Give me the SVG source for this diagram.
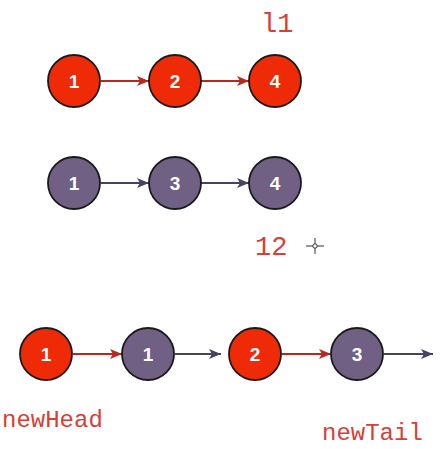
<svg xmlns="http://www.w3.org/2000/svg" width="441" height="449" viewBox="0 0 441 449">
<defs>
<style>
.r{fill:#ef2a06;stroke:#1a1a1a;stroke-width:1.8}
.p{fill:#6f6084;stroke:#1a1a1a;stroke-width:1.8}
.n{font-family:"Liberation Sans",Arial,sans-serif;font-weight:bold;font-size:19px;fill:#fff;text-anchor:middle}
.lbl{font-family:"Liberation Mono","Courier New",monospace;fill:#d6403a}
.ar{stroke:#b8281e;stroke-width:1.8;fill:none}
.ap{stroke:#4a4162;stroke-width:1.8;fill:none}
</style>
<marker id="hr" viewBox="0 0 12 10" refX="12" refY="5" markerWidth="12" markerHeight="10" orient="auto" markerUnits="userSpaceOnUse"><path d="M0,0 L12,5 L0,10 L3,5 Z" fill="#b8281e"/></marker>
<marker id="hp" viewBox="0 0 12 10" refX="12" refY="5" markerWidth="12" markerHeight="10" orient="auto" markerUnits="userSpaceOnUse"><path d="M0,0 L12,5 L0,10 L3,5 Z" fill="#4a4162"/></marker>
</defs>
<rect width="441" height="449" fill="#fff"/>
<g id="connectors">
<line class="ar" x1="101" y1="81" x2="149" y2="81" marker-end="url(#hr)"/>
<line class="ar" x1="201" y1="81" x2="249" y2="81" marker-end="url(#hr)"/>
<line class="ap" x1="101" y1="183" x2="149" y2="183" marker-end="url(#hp)"/>
<line class="ap" x1="201" y1="183" x2="249" y2="183" marker-end="url(#hp)"/>
<line class="ar" x1="73" y1="354" x2="122" y2="354" marker-end="url(#hr)"/>
<line class="ap" x1="175" y1="354" x2="221" y2="354" marker-end="url(#hp)"/>
<line class="ar" x1="282" y1="354" x2="331" y2="354" marker-end="url(#hr)"/>
<line class="ap" x1="384" y1="354" x2="433" y2="354" marker-end="url(#hp)"/>
</g>
<g id="l1-n1"><circle class="r" cx="74" cy="81" r="26"/><text class="n" x="74" y="88">1</text></g>
<g id="l1-n2"><circle class="r" cx="175" cy="81" r="26"/><text class="n" x="175" y="88">2</text></g>
<g id="l1-n3"><circle class="r" cx="275" cy="81" r="26"/><text class="n" x="275" y="88">4</text></g>
<g id="l2-n1"><circle class="p" cx="74" cy="183" r="26"/><text class="n" x="74" y="190">1</text></g>
<g id="l2-n2"><circle class="p" cx="175" cy="183" r="26"/><text class="n" x="175" y="190">3</text></g>
<g id="l2-n3"><circle class="p" cx="275" cy="183" r="26"/><text class="n" x="275" y="190">4</text></g>
<g id="m-n1"><circle class="r" cx="46" cy="354" r="26"/><text class="n" x="46" y="361">1</text></g>
<g id="m-n2"><circle class="p" cx="148" cy="354" r="26"/><text class="n" x="148" y="361">1</text></g>
<g id="m-n3"><circle class="r" cx="255" cy="354" r="26"/><text class="n" x="255" y="361">2</text></g>
<g id="m-n4"><circle class="p" cx="357" cy="354" r="26"/><text class="n" x="357" y="361">3</text></g>
<g id="labels">
<text class="lbl" x="261" y="32" font-size="27">l1</text>
<text class="lbl" x="255" y="255" font-size="27">12</text>
<text class="lbl" x="2" y="427" font-size="24">newHead</text>
<text class="lbl" x="322" y="440" font-size="24">newTail</text>
</g>
<g id="cursor" stroke="#333" stroke-width="1" fill="none">
<line x1="306" y1="246" x2="324" y2="246"/>
<line x1="315" y1="238" x2="315" y2="254"/>
<circle cx="315" cy="246" r="2.2" fill="#fff"/>
</g>
</svg>
